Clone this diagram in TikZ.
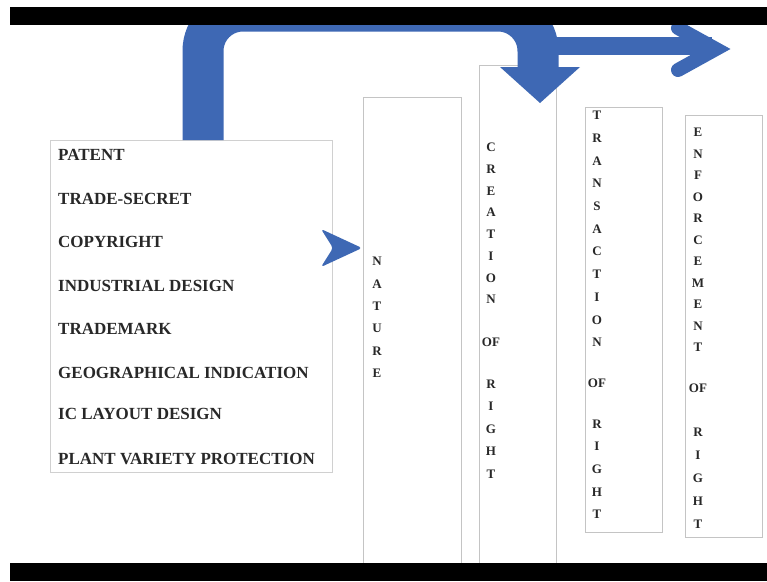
\documentclass[tikz,border=0pt]{standalone}
\usepackage{fontspec}
\setmainfont{Liberation Serif}
\definecolor{arrowblue}{RGB}{62,104,180}
\definecolor{boxgray}{RGB}{196,196,196}
\definecolor{inkgray}{RGB}{40,40,40}
\begin{document}
\begin{tikzpicture}[x=1pt,y=-1pt,
  listitem/.style={anchor=west, inner sep=0pt, text height=11.5pt, text depth=0pt,
    font=\fontsize{17}{17}\selectfont\bfseries, text=inkgray},
  colbox/.style={draw=boxgray, line width=1.3pt, fill=white},
  vtext/.style={anchor=north, inner sep=0pt, align=center, text=inkgray,
    font=\fontsize{13}{#1}\selectfont\bfseries},
  bluefill/.style={fill=arrowblue, draw=none},
  bar/.style={fill=black, draw=none}
]
\useasboundingbox (0,0) rectangle (767,581);
\clip (0,0) rectangle (767,581);
\fill[white] (0,0) rectangle (767,581);

% list box
\node[colbox, draw=boxgray!80, minimum width=282pt, minimum height=332pt, anchor=north west, inner sep=0pt] (listbox) at (50,140) {};
\node[listitem] (i1) at (58,155) {PATENT};
\node[listitem] (i2) at (58,199) {TRADE-SECRET};
\node[listitem] (i3) at (58,242) {COPYRIGHT};
\node[listitem] (i4) at (58,286) {INDUSTRIAL DESIGN};
\node[listitem] (i5) at (58,329) {TRADEMARK};
\node[listitem] (i6) at (58,373) {GEOGRAPHICAL INDICATION};
\node[listitem] (i7) at (58,414) {IC LAYOUT DESIGN};
\node[listitem] (i8) at (58,459) {PLANT VARIETY PROTECTION};

% column boxes
\node[colbox, minimum width=98pt, minimum height=473pt, anchor=north west, inner sep=0pt] (natbox) at (363,97) {};
\node[colbox, minimum width=77pt, minimum height=505pt, anchor=north west, inner sep=0pt] (crebox) at (479,65) {};
\node[colbox, minimum width=77pt, minimum height=425pt, anchor=north west, inner sep=0pt] (trabox) at (585,107) {};
\node[colbox, minimum width=77pt, minimum height=422pt, anchor=north west, inner sep=0pt] (enfbox) at (685,115) {};

% vertical texts
\node[vtext=22.4] (nat) at (377,257) {N\\A\\T\\U\\R\\E};
\node[vtext=21.7] (cre) at (491,143) {C\\R\\E\\A\\T\\I\\O\\N\\[21pt]OF\\[20pt]R\\[0.8pt]I\\[0.8pt]G\\[0.8pt]H\\[0.8pt]T};
\node[vtext=22.7] (tra) at (597,111) {T\\R\\A\\N\\S\\A\\C\\T\\I\\O\\N\\[18pt]OF\\[18pt]R\\I\\G\\H\\T};
\node[vtext=21.5] (enf) at (698,128) {E\\N\\F\\O\\R\\C\\E\\M\\E\\N\\T\\[19pt]OF\\[23pt]R\\[1.5pt]I\\[1.5pt]G\\[1.5pt]H\\[1.5pt]T};

% right horizontal arrow
\coordinate (hs) at (556,46);
\coordinate (he) at (712,46);
\draw[arrowblue, line width=18pt] (hs) -- (he);
\draw[arrowblue, line width=14pt, line cap=round, line join=miter] (678,28) -- (716,49) -- (678,70);

% U-turn arrow
\coordinate (us) at (203,140);
\coordinate (uc1) at (203,11);
\coordinate (uc2) at (538,11);
\coordinate (ue) at (538,68);
\draw[arrowblue, line width=41pt, rounded corners=40pt] (us) -- (uc1) -- (uc2) -- (ue);
\fill[arrowblue] (500,67) -- (580,67) -- (540,103) -- cycle;

% left chevron
\fill[arrowblue, rounded corners=3pt] (362,248) -- (321,229) -- (333,248) -- (321,267) -- cycle;

% frame bars
\fill[white] (0,0) rectangle (767,7);
\fill[white] (0,0) rectangle (10,581);
\fill[bar] (10,7) rectangle (767,25);
\fill[bar] (10,563) rectangle (767,581);
\end{tikzpicture}
\end{document}
